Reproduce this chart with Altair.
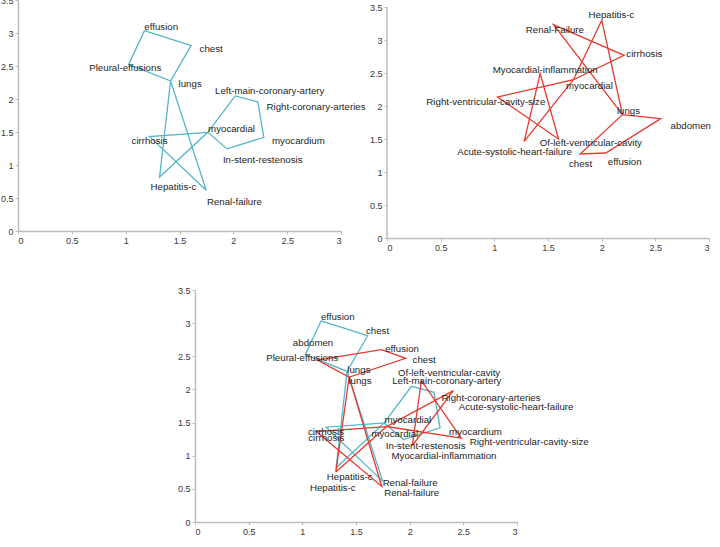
import altair as alt
import pandas as pd

# ---- term coordinates ------------------------------------------------------
# first corpus (blue)
blue_terms = ["effusion", "chest", "lungs", "Pleural-effusions",
              "Left-main-coronary-artery", "Right-coronary-arteries",
              "myocardial", "myocardium", "In-stent-restenosis",
              "cirrhosis", "Hepatitis-c", "Renal-failure"]
blue_x = [1.175, 1.608, 1.417, 1.027, 2.017, 2.227, 1.763, 2.283, 1.942, 1.222, 1.315, 1.748]
blue_y = [3.036, 2.810, 2.273, 2.524, 2.047, 1.957, 1.495, 1.420, 1.244, 1.430, 0.818, 0.617]
blue_path = ["effusion", "chest", "lungs", "Hepatitis-c", "myocardial",
             "Left-main-coronary-artery", "Right-coronary-arteries", "myocardium",
             "In-stent-restenosis", "myocardial", "cirrhosis", "Renal-failure",
             "lungs", "Pleural-effusions", "effusion"]

# second corpus (red), own space
red_terms = ["Hepatitis-c", "Renal-Failure", "cirrhosis", "Myocardial-inflammation",
             "myocardial", "Right-ventricular-cavity-size", "Acute-systolic-heart-failure",
             "Of-left-ventricular-cavity", "lungs", "abdomen", "effusion", "chest"]
red_x = [2.001, 1.551, 2.209, 1.427, 1.737, 1.030, 1.278, 1.598, 2.194, 2.550, 2.038, 1.800]
red_y = [3.298, 3.232, 2.768, 2.490, 2.399, 2.136, 1.465, 1.500, 1.869, 1.808, 1.288, 1.273]
red_path = ["Hepatitis-c", "myocardial", "Right-ventricular-cavity-size",
            "Of-left-ventricular-cavity", "Myocardial-inflammation",
            "Acute-systolic-heart-failure", "myocardial", "cirrhosis", "Renal-Failure",
            "lungs", "abdomen", "effusion", "chest", "lungs", "Hepatitis-c"]

# second corpus mapped into the first corpus' space
mapped_terms = ["Hepatitis-c", "Renal-failure", "cirrhosis", "Myocardial-inflammation",
                "myocardial", "Right-ventricular-cavity-size", "Acute-systolic-heart-failure",
                "Of-left-ventricular-cavity", "lungs", "abdomen", "effusion", "chest"]
mapped_x = [1.312, 1.740, 1.130, 2.025, 1.785, 2.481, 2.407, 2.109, 1.436, 1.141, 1.737, 1.963]
mapped_y = [0.753, 0.536, 1.365, 1.154, 1.440, 1.265, 1.982, 2.133, 2.184, 2.444, 2.600, 2.470]
mapped_path = ["Hepatitis-c", "myocardial", "Right-ventricular-cavity-size",
               "Of-left-ventricular-cavity", "Myocardial-inflammation",
               "Acute-systolic-heart-failure", "myocardial", "cirrhosis", "Renal-failure",
               "lungs", "abdomen", "effusion", "chest", "lungs", "Hepatitis-c"]

tick_values = [0, 0.5, 1, 1.5, 2, 2.5, 3, 3.5]

# ---- label placement (nudges in axis units, per term) ------------------------
blue_nudge = [(0.155, 0.054), (0.186, -0.05), (0.182, -0.05), (-0.031, -0.05),
              (0.321, 0.075), (0.541, -0.075), (0.22, 0.05), (0.321, -0.055),
              (0.331, -0.165), (0.0, -0.065), (0.129, -0.146), (0.262, -0.185)]
blue_nudge_combined = [(0.155, 0.051), (0.093, 0.071), (0.11, 0.025), (-0.028, -0.05),
                       (0.329, 0.076), (0.531, -0.085), (0.22, 0.05), (0.33, -0.055),
                       (0.207, -0.09), (-0.002, -0.075), (0.126, -0.14), (0.256, -0.025)]
red_nudge = [(0.09, 0.076), (0.013, -0.075), (0.189, 0.025), (0.047, 0.061),
             (0.149, -0.101), (-0.109, -0.075), (-0.09, -0.162), (0.301, -0.061),
             (0.056, 0.05), (0.28, -0.106), (0.177, -0.142), (0.003, -0.147)]
mapped_nudge = [(-0.028, -0.241), (0.279, -0.099), (0.093, -0.1), (0.295, -0.16),
                (0.077, -0.11), (0.632, -0.06), (0.585, -0.25), (0.258, 0.115),
                (0.101, -0.051), (-0.041, 0.252), (0.192, 0.01), (0.172, -0.026)]

BLUE = "#55b5ca"
RED = "#e63a2e"
AXIS_GREY = "#bdbdbd"
FONT = "Liberation Sans"


def path_frame(terms, xs, ys, path):
    pos = {t: (x, y) for t, x, y in zip(terms, xs, ys)}
    return pd.DataFrame({
        "step": list(range(len(path))),
        "x": [pos[t][0] for t in path],
        "y": [pos[t][1] for t in path],
    })


def label_frame(terms, xs, ys, nudge):
    return pd.DataFrame({
        "term": terms,
        "lx": [x + n[0] for x, n in zip(xs, nudge)],
        "ly": [y + n[1] for y, n in zip(ys, nudge)],
    })


def panel(series, width, height, ymax, axis_line_top=None):
    xs = alt.Scale(domain=[0, 3], nice=False, zero=False)
    ys = alt.Scale(domain=[0, ymax], nice=False, zero=False)
    x_axis = alt.Axis(values=tick_values[:-1], format="~g", grid=False, labelOverlap=False)
    y_axis = alt.Axis(values=tick_values, format="~g", grid=False, labelOverlap=False,
                      domain=axis_line_top is None)

    def X(field):
        return alt.X(field, scale=xs, axis=x_axis, title=None)

    def Y(field):
        return alt.Y(field, scale=ys, axis=y_axis, title=None)

    layers = []
    if axis_line_top is not None:
        af = pd.DataFrame({"x0": [0.0], "y0": [0.0], "y1": [axis_line_top]})
        layers.append(alt.Chart(af).mark_rule(color=AXIS_GREY, strokeWidth=1.5).encode(
            x=X("x0:Q"), y=Y("y0:Q"), y2="y1:Q"))
    for terms, px, py, path, nudge, color in series:
        pf = path_frame(terms, px, py, path)
        layers.append(
            alt.Chart(pf).mark_line(color=color, strokeWidth=1.3).encode(
                x=X("x:Q"), y=Y("y:Q"), order="step:Q",
            )
        )
    for terms, px, py, path, nudge, color in series:
        lf = label_frame(terms, px, py, nudge)
        layers.append(
            alt.Chart(lf).mark_text(font=FONT, fontSize=9.7, color="#1e1e1e",
                                    align="center", baseline="middle").encode(
                x=X("lx:Q"), y=Y("ly:Q"), text="term:N",
            )
        )
    return alt.layer(*layers).properties(width=width, height=height)


p_blue = panel([(blue_terms, blue_x, blue_y, blue_path, blue_nudge, BLUE)],
               323, 231, 3.5)
p_red = panel([(red_terms, red_x, red_y, red_path, red_nudge, RED)],
              322, 238, 3.5 * 238 / 231, axis_line_top=3.5)
p_both = panel([(blue_terms, blue_x, blue_y, blue_path, blue_nudge_combined, BLUE),
                (mapped_terms, mapped_x, mapped_y, mapped_path, mapped_nudge, RED)],
               322, 232, 3.5)

spacer = alt.Chart(pd.DataFrame({"v": [0]})).mark_point(opacity=0).encode(
    x=alt.X("v:Q", axis=None), y=alt.Y("v:Q", axis=None)
).properties(width=167, height=232)

top_row = alt.hconcat(p_blue, p_red, spacing=46, bounds="flush")
bottom_row = alt.hconcat(spacer, p_both, spacing=10, bounds="flush")

chart = alt.vconcat(top_row, bottom_row, spacing=34).properties(
    padding={"left": 0, "top": -4, "right": 0, "bottom": 0},
    background="white",
).configure_view(stroke=None).configure_axis(
    domainColor=AXIS_GREY, domainWidth=1.5, tickColor=AXIS_GREY, tickSize=3,
    labelColor="#3a3a3a", labelFontSize=9, labelFont=FONT, labelPadding=2,
)

chart.save("out.html", embed_options={"renderer": "svg", "actions": False})
